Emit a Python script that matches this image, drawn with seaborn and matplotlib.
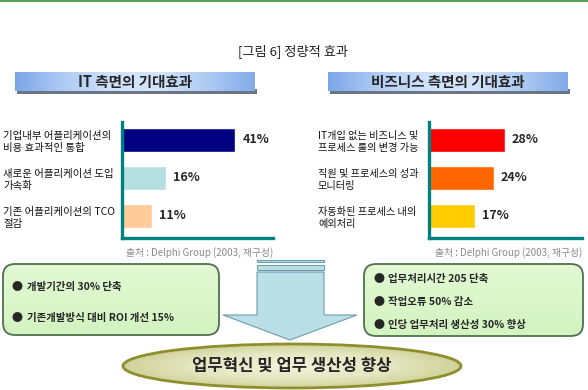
import numpy as np
import pandas as pd
import seaborn as sns
import matplotlib.pyplot as plt
from matplotlib.patches import FancyBboxPatch, Polygon, Ellipse, Rectangle
from matplotlib.colors import LinearSegmentedColormap

# data
title = '[그림 6] 정량적 효과'
it_header = 'IT 측면의 기대효과'
biz_header = '비즈니스 측면의 기대효과'
it_labels = ['기업내부 어플리케이션의\n비용 효과적인 통합',
             '새로운 어플리케이션 도입\n가속화',
             '기존 어플리케이션의 TCO\n절감']
it_values = [41, 16, 11]
it_colors = ['#000080', '#B4DEE0', '#FFCC99']
biz_labels = ['IT개입 없는 비즈니스 및\n프로세스 룰의 변경 가능',
              '직원 및 프로세스의 성과\n모니터링',
              '자동화된 프로세스 내의\n예외처리']
biz_values = [28, 24, 17]
biz_colors = ['#FF0000', '#FF6600', '#FFCC00']
source = '출처 : Delphi Group (2003, 재구성)'
left_points = ['개발기간의 30% 단축', '기존개발방식 대비 ROI 개선 15%']
right_points = ['업무처리시간 205 단축', '작업오류 50% 감소', '인당 업무처리 생산성 30% 향상']
result = '업무혁신 및 업무 생산성 향상'

sns.set_theme(style='white')
plt.rcParams['font.family'] = ['Noto Sans CJK KR', 'DejaVu Sans']

W, H = 588, 390
fig = plt.figure(figsize=(W / 100, H / 100), dpi=100)


def frac(x0, y0, x1, y1):
    return [x0 / W, 1 - y1 / H, (x1 - x0) / W, (y1 - y0) / H]


bg = fig.add_axes([0, 0, 1, 1])
bg.axis('off')


def gradient(x0, y0, x1, y1, colors, vertical=False, z=1):
    cmap = LinearSegmentedColormap.from_list('g', colors)
    g = np.linspace(0, 1, 256)
    img = g[:, None] if vertical else g[None, :]
    return bg.imshow(img, cmap=cmap, extent=(x0, x1, y1, y0), aspect='auto',
                     interpolation='bicubic', zorder=z)


# top rule and title
bg.add_patch(Rectangle((0, 0), W, 1.8, color='#5E9E5E', lw=0))
bg.text(293, 51, title, ha='center', va='center', fontsize=9.5, color='#222222')

# headers
for x0, txt in [(15, it_header), (328, biz_header)]:
    bg.add_patch(Rectangle((x0 + 2, 89), 240, 5, color='#6B7685', lw=0, zorder=1))
    gradient(x0, 72, x0 + 240, 91,
             ['#7AA6E8', '#AFCBF4', '#CFE1FA', '#D4E4FA', '#AECBF3', '#82ABE9'], z=2)
    bg.text(x0 + 120, 82, txt, ha='center', va='center', fontsize=10.5,
            fontweight='bold', zorder=3)

# sources
bg.text(273, 253, source, ha='right', va='center', fontsize=7, color='#8A8A8A')
bg.text(582, 253, source, ha='right', va='center', fontsize=7, color='#8A8A8A')

# bottom boxes
for (x0, y0, w, h) in [(3, 264, 216, 71), (364, 264, 219, 72)]:
    box = FancyBboxPatch((x0, y0), w, h, boxstyle='round,pad=0,rounding_size=12',
                         facecolor='none', edgecolor='none')
    bg.add_patch(box)
    gradient(x0, y0, x0 + w, y0 + h, ['#E2F9D4', '#D3F3C0'], vertical=True,
             z=1).set_clip_path(box)
    bg.add_patch(FancyBboxPatch((x0, y0), w, h, boxstyle='round,pad=0,rounding_size=12',
                                facecolor='none', edgecolor='#51704F', lw=1.3, zorder=2))
for i, t in enumerate(left_points):
    y = 287 + 31 * i
    bg.text(12, y, '●', va='center', fontsize=8, zorder=3)
    bg.text(27, y, t, va='center', fontsize=7.5, fontweight='bold', zorder=3)
for i, t in enumerate(right_points):
    y = 279 + 23 * i
    bg.text(374, y, '●', va='center', fontsize=8, zorder=3)
    bg.text(388, y, t, va='center', fontsize=7.5, fontweight='bold', zorder=3)

# arrow
arrow_kw = dict(facecolor='#BADFE6', edgecolor='#6E9EAB', lw=0.8)
bg.add_patch(Rectangle((257, 259.5), 67, 2.5, **arrow_kw))
bg.add_patch(Rectangle((257, 264.5), 67, 5.5, **arrow_kw))
bg.add_patch(Polygon([(257, 272), (324, 272), (324, 315), (357, 315), (290, 340),
                      (223, 315), (257, 315)], closed=True, **arrow_kw))

# ellipse with radial shading
ell = Ellipse((292, 366), 338, 44, facecolor='none', edgecolor='none')
bg.add_patch(ell)
yy, xx = np.mgrid[-1:1:120j, -1:1:300j]
r = np.sqrt(xx ** 2 + yy ** 2)
cmap = LinearSegmentedColormap.from_list('e', ['#F1F3DA', '#E4E7C0', '#C6C887'])
im = bg.imshow(r, cmap=cmap, extent=(123, 461, 388, 344), aspect='auto', zorder=2,
               vmin=0, vmax=1.2)
im.set_clip_path(ell)
bg.add_patch(Ellipse((292, 366), 338, 44, facecolor='none', edgecolor='#8E8E2E',
                     lw=2, zorder=3))
bg.text(292, 366, result, ha='center', va='center', fontsize=12, fontweight='bold',
        zorder=4)

bg.set_xlim(0, W)
bg.set_ylim(H, 0)


def bar_panel(rect, labels, values, colors, xmax, pad_px, fs):
    ax = fig.add_axes(frac(*rect))
    df = pd.DataFrame({'label': labels, 'value': values})
    sns.barplot(data=df, x='value', y='label', hue='label', palette=colors,
                legend=False, width=0.63, saturation=1, ax=ax)
    ax.set_xlim(0, xmax)
    ax.set_ylim(2.58, -0.47)
    ax.set_facecolor('none')
    ax.set_xticks([])
    ax.set_xlabel('')
    ax.set_ylabel('')
    for s in ['top', 'right']:
        ax.spines[s].set_visible(False)
    for s in ['left', 'bottom']:
        ax.spines[s].set_color('#008080')
        ax.spines[s].set_linewidth(2.4)
    ax.tick_params(axis='y', length=0, pad=pad_px * 0.72)
    for t in ax.get_yticklabels():
        t.set_ha('left')
        t.set_fontsize(fs)
        t.set_color('#111111')
        t.set_linespacing(1.3)
    for c in ax.containers:
        ax.bar_label(c, fmt='%d%%', padding=5, fontsize=9, fontweight='bold')
    return ax


bar_panel((122, 122, 273, 238), it_labels, it_values, it_colors, 54.6, 119, 7.5)
bar_panel((429, 122, 582, 238), biz_labels, biz_values, biz_colors, 56.5, 111, 7.3)

fig.savefig('out.png', dpi=100)
